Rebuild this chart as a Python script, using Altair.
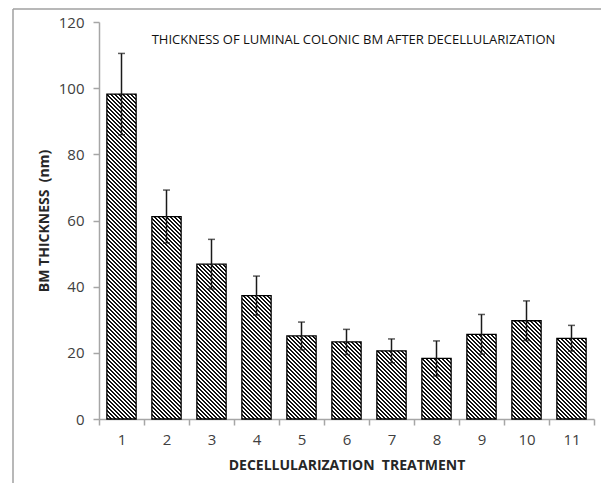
import altair as alt
import pandas as pd

# ---- data ----
treatments = list(range(1, 12))
thickness = [98.2, 61.2, 46.8, 37.3, 25.1, 23.3, 20.6, 18.3, 25.6, 29.7, 24.4]
error = [12.3, 8.0, 7.5, 5.9, 4.2, 3.8, 3.6, 5.3, 6.0, 6.0, 3.9]
y_ticks = [0, 20, 40, 60, 80, 100, 120]

df = pd.DataFrame({"treatment": treatments, "thickness": thickness, "err": error})
df["lo"] = df["thickness"] - df["err"]
df["hi"] = df["thickness"] + df["err"]

# ---- layout / style ----
W, H = 495, 397
YMAX = 120
BAND = 0.65
BAR_W = W / len(treatments) * BAND
PERIOD = 4.0
FONT = "Open Sans"
AXIS_GRAY = "#a6a6a6"
NB = "\u00a0"


def hatch(value):
    """Diagonal hatch as a hard-stop linear gradient (stripes at 45 deg)."""
    w = BAR_W
    h = value / YMAX * H
    s = (w + h) * w / (w * w + h * h)
    dt = PERIOD / (w + h)
    stops = []
    t = 0.0
    while t < 1.0:
        a = min(t, 1.0)
        b = min(t + dt / 2, 1.0)
        c = min(t + dt, 1.0)
        stops += [
            {"offset": a, "color": "#111111"},
            {"offset": b, "color": "#111111"},
            {"offset": b, "color": "#ffffff"},
            {"offset": c, "color": "#ffffff"},
        ]
        t += dt
    return {"gradient": "linear", "x1": 0, "y1": 1, "x2": s, "y2": 1 - s * h / w,
            "stops": stops}


x_enc = alt.X(
    "treatment:O",
    scale=alt.Scale(domain=treatments, paddingInner=0, paddingOuter=0),
    axis=alt.Axis(
        title="DECELLULARIZATION" + NB + NB + "TREATMENT",
        labelAngle=0,
        tickBand="extent",
        tickSize=6,
        labelPadding=7,
        titlePadding=11,
    ),
)
y_scale = alt.Scale(domain=[0, YMAX], nice=False)
y_enc = alt.Y(
    "thickness:Q",
    scale=y_scale,
    axis=alt.Axis(
        title="BM THICKNESS" + NB + NB + "(nm)",
        values=y_ticks,
        grid=False,
        tickSize=6,
        labelPadding=9,
        titlePadding=7,
    ),
)

base = alt.Chart(df)

bars = []
for t, v in zip(treatments, thickness):
    bars.append(
        base.transform_filter(alt.datum.treatment == t)
        .mark_bar(width={"band": BAND}, fill=hatch(v), stroke="#000000", strokeWidth=1.3)
        .encode(x=x_enc, y=y_enc)
    )

err_rule = base.mark_rule(color="#1a1a1a", strokeWidth=1.5).encode(
    x="treatment:O", y=alt.Y("lo:Q", scale=y_scale), y2="hi:Q"
)
cap_hi = base.mark_tick(color="#1a1a1a", size=7, thickness=1.5).encode(
    x="treatment:O", y=alt.Y("hi:Q", scale=y_scale)
)
cap_lo = base.mark_tick(color="#1a1a1a", size=7, thickness=1.5).encode(
    x="treatment:O", y=alt.Y("lo:Q", scale=y_scale)
)

one = alt.Chart(pd.DataFrame({"k": [0]}))
frame_top = one.mark_rule(color="#a0a0a0", strokeWidth=1.5).encode(
    x=alt.value(-86), x2=alt.value(W + 10), y=alt.value(-13)
)
frame_left = one.mark_rule(color="#a0a0a0", strokeWidth=1.5).encode(
    x=alt.value(-86), y=alt.value(-13), y2=alt.value(H + 80)
)

chart = (
    alt.layer(*bars, err_rule, cap_hi, cap_lo, frame_top, frame_left)
    .properties(
        width=W,
        height=H,
        autosize=alt.AutoSizeParams(type="none"),
        padding={"left": 91, "top": 14, "right": 7, "bottom": 64},
        title=alt.TitleParams(
            "THICKNESS OF LUMINAL COLONIC BM AFTER DECELLULARIZATION",
            font=FONT,
            fontSize=13,
            fontWeight="normal",
            color="#111111",
            anchor="middle",
            frame="group",
            offset=-39,
            dx=7,
        ),
    )
    .configure(font=FONT, background="white")
    .configure_view(strokeWidth=0)
    .configure_axis(
        domainColor=AXIS_GRAY,
        domainWidth=1.5,
        tickColor=AXIS_GRAY,
        tickWidth=1.5,
        labelFont=FONT,
        labelFontSize=15,
        labelColor="#404040",
        titleFont=FONT,
        titleFontSize=14,
        titleFontWeight="bold",
        titleColor="#262626",
    )
)

chart.save("out.html", embed_options={"renderer": "svg", "actions": False})
